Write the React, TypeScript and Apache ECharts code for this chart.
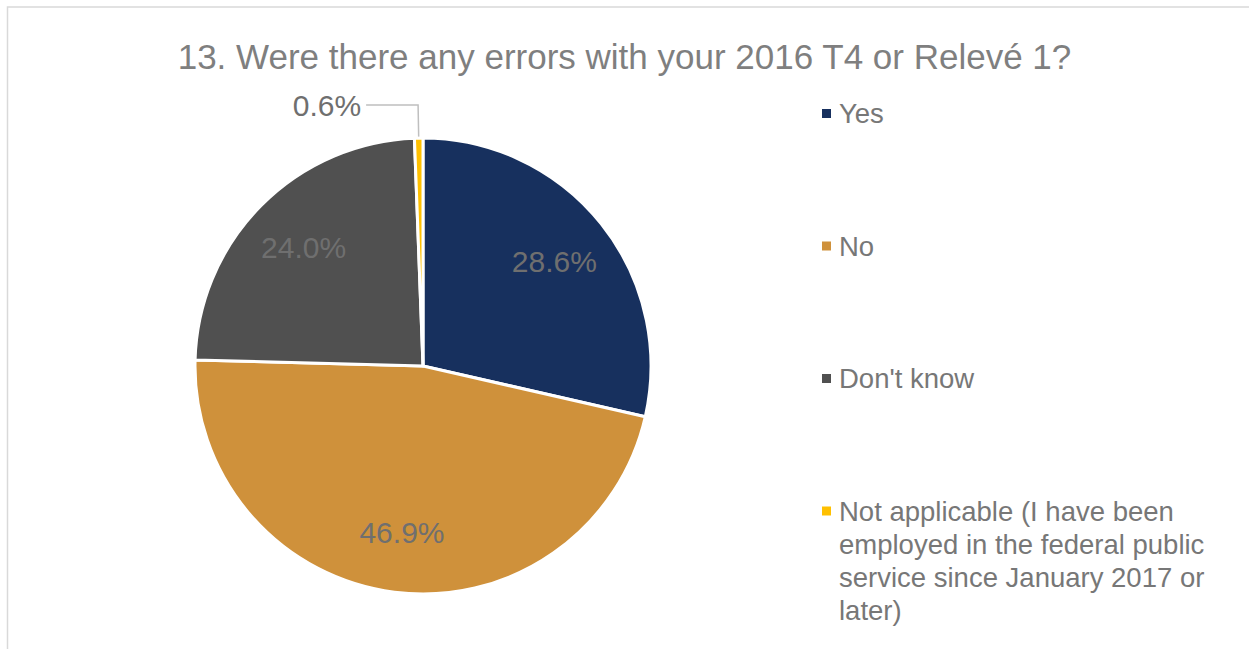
import React, { useEffect, useRef } from "react";
import * as echarts from "echarts";

const titleText = "13. Were there any errors with your 2016 T4 or Relevé 1?";
const categories = [
  "Yes",
  "No",
  "Don't know",
  "Not applicable (I have been employed in the federal public service since January 2017 or later)",
];
const values = [28.6, 46.9, 24.0, 0.6];
const legendWrapped = [
  "Yes",
  "No",
  "Don't know",
  "Not applicable (I have been\nemployed in the federal public\nservice since January 2017 or\nlater)",
];
const colors = ["#17305E", "#CF913B", "#505050", "#FFC000"];
const outsideLabelIndex = [3];

const FONT = "'Liberation Sans', Arial, sans-serif";

export default function App() {
  const ref = useRef<HTMLDivElement>(null);
  useEffect(() => {
    if (!ref.current) return;
    const chart = echarts.init(ref.current, null, { renderer: "svg" });
    const fmt = (v: number) => `${v.toFixed(1)}%`;
    const mainData = categories.map((name, i) => ({
      name,
      value: values[i],
      itemStyle: { color: colors[i] },
      label: outsideLabelIndex.includes(i)
        ? {
            show: true,
            position: "outside",
            formatter: fmt(values[i]),
            fontSize: 30,
            color: "#6f6f6f",
            fontFamily: FONT,
            distanceToLabelLine: 5,
          }
        : { show: false },
      labelLine: outsideLabelIndex.includes(i)
        ? { show: true, length: 33, length2: 52, lineStyle: { color: "#BFBFBF", width: 1.5 } }
        : { show: false },
    }));
    const labelData = categories.map((name, i) => ({
      name,
      value: values[i],
      itemStyle: { color: "rgba(0,0,0,0)", borderWidth: 0 },
      label: outsideLabelIndex.includes(i) ? { show: false } : { show: true },
    }));
    chart.setOption({
      animation: false,
      backgroundColor: "#ffffff",
      title: {
        text: titleText,
        left: "center",
        top: 30,
        textStyle: {
          fontSize: 35,
          fontWeight: "normal",
          color: "#7f7f7f",
          fontFamily: FONT,
          lineHeight: 42,
        },
      },
      legend: {
        orient: "vertical",
        left: 815,
        top: 92,
        height: 540,
        itemWidth: 11,
        itemHeight: 11,
        itemGap: 99.5,
        icon: "rect",
        selectedMode: false,
        data: categories,
        formatter: (name: string) => legendWrapped[categories.indexOf(name)],
        textStyle: {
          fontSize: 27.5,
          color: "#777777",
          fontFamily: FONT,
          lineHeight: 33,
          height: 33,
          padding: [0, 0, 0, 2],
          rich: { a: { fontSize: 27.5, color: "#777777", fontFamily: FONT, lineHeight: 33 } },
        },
      },
      graphic: [
        {
          type: "rect",
          shape: { x: 7.5, y: 7, width: 1400, height: 800 },
          style: { fill: "none", stroke: "#D9D9D9", lineWidth: 1.5 },
          silent: true,
        },
      ],
      series: [
        {
          type: "pie",
          center: [423, 366],
          radius: 228,
          startAngle: 90,
          clockwise: true,
          avoidLabelOverlap: false,
          emphasis: { disabled: true },
          itemStyle: { borderColor: "#ffffff", borderWidth: 3 },
          data: mainData,
        },
        {
          type: "pie",
          center: [423, 366],
          radius: 330,
          startAngle: 90,
          clockwise: true,
          silent: true,
          avoidLabelOverlap: false,
          emphasis: { disabled: true },
          label: {
            position: "inside",
            formatter: (p: any) => fmt(p.value),
            fontSize: 30,
            color: "#6f6f6f",
            fontFamily: FONT,
          },
          labelLine: { show: false },
          data: labelData,
        },
      ],
    });
    return () => chart.dispose();
  }, []);
  return (
    <div
      ref={ref}
      style={{ position: "fixed", left: 0, top: 0, width: 1249, height: 649 }}
    />
  );
}
